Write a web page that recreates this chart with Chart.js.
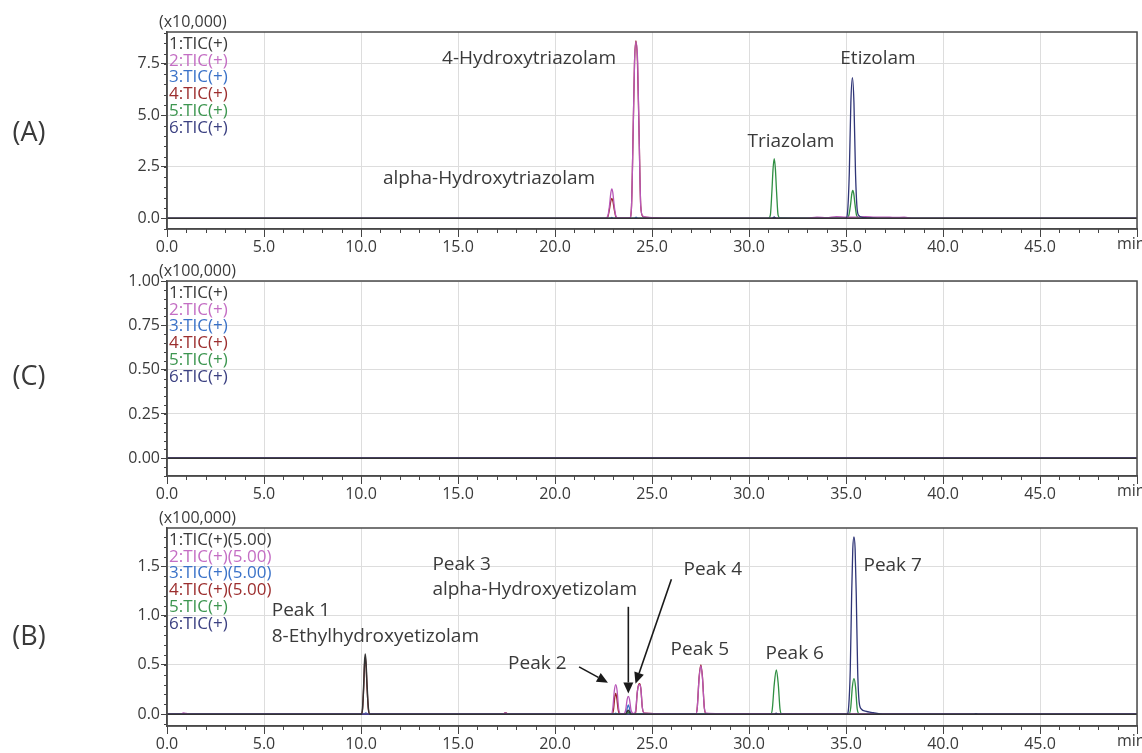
<!DOCTYPE html>
<html lang="en">
<head>
  <meta charset="UTF-8">
  <title>TIC chromatograms (A) (C) (B)</title>
  <style>
    body {
      margin: 0;
      background-color: #ffffff;
    }

    #wrap {
      position: relative;
      width: 1142px;
      height: 753px;
      overflow: hidden;
    }

    #wrap canvas {
      position: absolute;
      left: 0;
    }
  </style>
</head>
<body>
  <div id="wrap">
    <canvas id="chartA" width="1142" height="256" style="top:0px"></canvas>
    <canvas id="chartC" width="1142" height="254" style="top:249px"></canvas>
    <canvas id="chartB" width="1142" height="257" style="top:496px"></canvas>
  </div>

  <script src="https://cdn.jsdelivr.net/npm/chart.js"></script>

  <script>
    // ---- data ----
    const seriesNames = ['1:TIC(+)', '2:TIC(+)', '3:TIC(+)', '4:TIC(+)', '5:TIC(+)', '6:TIC(+)'];
    const seriesNamesB = ['1:TIC(+)(5.00)', '2:TIC(+)(5.00)', '3:TIC(+)(5.00)', '4:TIC(+)(5.00)', '5:TIC(+)', '6:TIC(+)'];
    const seriesColors = ['#333333', '#b857b8', '#3a72c8', '#9c2626', '#2f8f42', '#2f3577'];
    const legendColors = ['#3a3a3a', '#c46ec4', '#3a72c8', '#9c2e2e', '#3d9650', '#3c4182'];

    const xTicks = [0, 5, 10, 15, 20, 25, 30, 35, 40, 45, 50];
    const xTickLabels = ['0.0', '5.0', '10.0', '15.0', '20.0', '25.0', '30.0', '35.0', '40.0', '45.0', ''];
    const xUnit = 'min';

    const yTicksA = [0, 2.5, 5, 7.5];
    const yLabelsA = ['0.0', '2.5', '5.0', '7.5'];
    const yTicksC = [0, 0.25, 0.5, 0.75, 1];
    const yLabelsC = ['0.00', '0.25', '0.50', '0.75', '1.00'];
    const yTicksB = [0, 0.5, 1, 1.5];
    const yLabelsB = ['0.0', '0.5', '1.0', '1.5'];

    // (A) x10,000
    const a1 = [[0, 0], [50, 0]];
    const a2 = [[0, 0], [22.6, 0], [22.72, 0.1], [22.8, 0.55], [22.88, 1.25], [22.93, 1.43], [22.98, 1.25], [23.06, 0.55],
      [23.14, 0.1], [23.25, 0.02], [23.85, 0.02], [23.94, 0.5], [24.03, 4.3], [24.1, 7.6], [24.18, 8.57], [24.26, 7.6],
      [24.33, 4.3], [24.42, 0.6], [24.52, 0.12], [24.7, 0.06], [25, 0.03], [26, 0], [33, 0], [33.5, 0.06], [34, 0.03],
      [34.5, 0.08], [35, 0.05], [35.6, 0.06], [36, 0.08], [36.5, 0.05], [37, 0.06], [37.5, 0.04], [38, 0.05], [38.5, 0], [50, 0]];
    const a3 = [[0, 0], [22.85, 0], [22.93, 0.04], [23.0, 0], [24.1, 0], [24.18, 0.05], [24.26, 0], [31.2, 0], [31.3, 0.06],
      [31.4, 0], [50, 0]];
    const a4 = [[0, 0], [22.6, 0], [22.72, 0.07], [22.8, 0.4], [22.88, 0.85], [22.93, 0.97], [22.98, 0.85], [23.06, 0.4],
      [23.14, 0.07], [23.25, 0], [23.85, 0], [23.94, 0.5], [24.03, 4.3], [24.1, 7.6], [24.17, 8.62], [24.25, 7.6],
      [24.33, 4.3], [24.42, 0.6], [24.52, 0.1], [24.7, 0.04], [25.5, 0], [50, 0]];
    const a5 = [[0, 0], [31.0, 0], [31.1, 0.15], [31.18, 1.3], [31.24, 2.4], [31.3, 2.9], [31.36, 2.4], [31.42, 1.3],
      [31.5, 0.15], [31.6, 0.02], [35.05, 0], [35.15, 0.15], [35.24, 0.7], [35.3, 1.2], [35.35, 1.36], [35.4, 1.2],
      [35.46, 0.7], [35.55, 0.12], [35.7, 0], [50, 0]];
    const a6 = [[0, 0], [31.2, 0], [31.3, 0.06], [31.4, 0], [35.0, 0], [35.08, 0.3], [35.17, 2.2], [35.25, 5.6],
      [35.33, 6.83], [35.41, 5.6], [35.49, 2.2], [35.58, 0.4], [35.68, 0.12], [35.85, 0.05], [36.2, 0.02], [36.6, 0], [50, 0]];

    // (C) x100,000 - flat
    const c1 = [[0, 0], [50, 0]];
    const c2 = [[0, 0], [50, 0]];
    const c3 = [[0, 0], [50, 0]];
    const c4 = [[0, 0], [50, 0]];
    const c5 = [[0, 0], [50, 0]];
    const c6 = [[0, 0], [50, 0]];

    // (B) x100,000
    const b1 = [[0, 0], [10.02, 0], [10.08, 0.06], [10.14, 0.3], [10.18, 0.52], [10.22, 0.61], [10.26, 0.52], [10.31, 0.3],
      [10.38, 0.06], [10.46, 0], [23.65, 0], [23.72, 0.025], [23.78, 0.04], [23.84, 0.025], [23.9, 0], [50, 0]];
    const b2 = [[0, 0], [0.7, 0], [0.85, 0.012], [1.0, 0.008], [1.2, 0], [17.3, 0], [17.45, 0.012], [17.6, 0], [22.9, 0],
      [22.98, 0.06], [23.06, 0.24], [23.13, 0.30], [23.2, 0.24], [23.28, 0.06], [23.38, 0.005], [23.55, 0.005],
      [23.64, 0.04], [23.72, 0.15], [23.78, 0.18], [23.84, 0.15], [23.92, 0.04], [24.05, 0.005], [24.15, 0.03],
      [24.24, 0.22], [24.31, 0.29], [24.37, 0.30], [24.43, 0.25], [24.5, 0.07], [24.6, 0.01], [27.25, 0], [27.33, 0.06],
      [27.43, 0.37], [27.52, 0.49], [27.6, 0.37], [27.7, 0.06], [27.8, 0.01], [28.5, 0.005], [50, 0]];
    const b3 = [[0, 0], [10.15, 0], [10.25, 0.012], [10.35, 0], [17.35, 0], [17.45, 0.01], [17.55, 0], [23.05, 0],
      [23.13, 0.01], [23.2, 0], [23.66, 0], [23.72, 0.06], [23.78, 0.095], [23.84, 0.06], [23.9, 0], [50, 0]];
    const b4 = [[0, 0], [10.02, 0], [10.08, 0.05], [10.14, 0.28], [10.18, 0.5], [10.22, 0.58], [10.26, 0.5], [10.31, 0.28],
      [10.38, 0.05], [10.46, 0], [17.3, 0], [17.45, 0.015], [17.6, 0], [22.95, 0], [23.02, 0.05], [23.08, 0.17],
      [23.13, 0.21], [23.18, 0.17], [23.26, 0.04], [23.35, 0], [24.15, 0], [24.24, 0.22], [24.31, 0.3], [24.37, 0.31],
      [24.43, 0.25], [24.5, 0.07], [24.6, 0.01], [27.25, 0], [27.33, 0.06], [27.43, 0.38], [27.52, 0.50], [27.6, 0.38],
      [27.7, 0.06], [27.8, 0], [50, 0]];
    const b5 = [[0, 0], [23.7, 0], [23.78, 0.02], [23.86, 0], [31.12, 0], [31.2, 0.05], [31.3, 0.3], [31.41, 0.45],
      [31.51, 0.3], [31.6, 0.05], [31.7, 0], [35.15, 0], [35.24, 0.06], [35.33, 0.28], [35.41, 0.36], [35.49, 0.28],
      [35.58, 0.05], [35.7, 0], [50, 0]];
    const b6 = [[0, 0], [31.3, 0], [31.4, 0.01], [31.5, 0], [35.05, 0], [35.14, 0.08], [35.22, 0.45], [35.29, 1.2],
      [35.35, 1.68], [35.41, 1.80], [35.47, 1.68], [35.53, 1.2], [35.6, 0.45], [35.68, 0.12], [35.8, 0.05], [36.0, 0.03],
      [36.4, 0.015], [36.9, 0], [41.6, 0], [41.7, 0.006], [41.8, 0], [50, 0]];

    // labels on the peaks [text, x (min), y (axis units), align]
    const notesA = [
      ['4-Hydroxytriazolam', 18.66, 7.77, 'center'],
      ['alpha-Hydroxytriazolam', 16.6, 1.94, 'center'],
      ['Triazolam', 32.16, 3.74, 'center'],
      ['Etizolam', 36.65, 7.77, 'center']
    ];
    const notesB = [
      ['Peak 1', 5.4, 1.05, 'left'],
      ['8-Ethylhydroxyetizolam', 5.4, 0.79, 'left'],
      ['Peak 3', 13.68, 1.52, 'left'],
      ['alpha-Hydroxyetizolam', 13.68, 1.26, 'left'],
      ['Peak 2', 17.58, 0.51, 'left'],
      ['Peak 4', 26.63, 1.47, 'left'],
      ['Peak 5', 25.96, 0.66, 'left'],
      ['Peak 6', 30.85, 0.62, 'left'],
      ['Peak 7', 35.9, 1.51, 'left']
    ];
    // arrows [x0, y0, x1, y1]
    const arrowsB = [
      [21.24, 0.48, 22.73, 0.32],
      [23.78, 1.09, 23.78, 0.21],
      [26.0, 1.37, 24.15, 0.31]
    ];

    // drawing order: black on top, then navy, magenta, blue, green, red
    const drawOrder = [0, 2, 3, 5, 4, 1];

    const FONT = "'Open Sans', 'Noto Sans', sans-serif";
    const TEXT = '#3a3a3a';

    // frame, minor ticks, legend text, notes and arrows
    const panelDeco = {
      id: 'panelDeco',
      afterDraw(chart, args, o) {
        const ctx = chart.ctx;
        const area = chart.chartArea;
        const xs = chart.scales.x;
        const ys = chart.scales.y;
        ctx.save();

        // minor ticks
        ctx.strokeStyle = '#444';
        ctx.lineWidth = 1;
        ctx.beginPath();
        const nx = Math.round((xs.max - xs.min) / o.xMinor);
        for (let i = 0; i <= nx; i++) {
          const px = Math.round(xs.getPixelForValue(xs.min + i * o.xMinor)) + 0.5;
          ctx.moveTo(px, area.bottom);
          ctx.lineTo(px, area.bottom + 4);
        }
        const y0 = Math.ceil(ys.min / o.yMinor - 1e-6);
        const y1 = Math.floor(ys.max / o.yMinor + 1e-6);
        for (let k = y0; k <= y1; k++) {
          const py = Math.round(ys.getPixelForValue(k * o.yMinor)) + 0.5;
          ctx.moveTo(area.left - 3, py);
          ctx.lineTo(area.left, py);
        }
        ctx.stroke();

        // frame
        ctx.strokeStyle = '#4a4a4a';
        ctx.lineWidth = 1.5;
        ctx.strokeRect(area.left, area.top, area.right - area.left, area.bottom - area.top);

        // panel label, multiplier, unit
        ctx.fillStyle = TEXT;
        ctx.textBaseline = 'middle';
        ctx.textAlign = 'center';
        ctx.font = '27px ' + FONT;
        ctx.fillText(o.panel, 29, o.panelY);
        ctx.textAlign = 'left';
        ctx.font = '16px ' + FONT;
        ctx.fillText(o.multiplier, 159, area.top - 10);
        ctx.fillText(xUnit, xs.getPixelForValue(50) - 20, area.bottom + 15);

        // legend text
        ctx.font = '17px ' + FONT;
        o.legend.forEach((t, i) => {
          ctx.fillStyle = legendColors[i];
          ctx.fillText(t, area.left + 2, area.top + 12 + i * 16.8);
        });

        // notes
        ctx.fillStyle = TEXT;
        ctx.font = '19px ' + FONT;
        o.notes.forEach(n => {
          ctx.textAlign = n[3];
          ctx.fillText(n[0], xs.getPixelForValue(n[1]), ys.getPixelForValue(n[2]));
        });

        // arrows
        ctx.strokeStyle = '#1a1a1a';
        ctx.fillStyle = '#1a1a1a';
        ctx.lineWidth = 1.6;
        o.arrows.forEach(a => {
          const xA = xs.getPixelForValue(a[0]), yA = ys.getPixelForValue(a[1]);
          const xB = xs.getPixelForValue(a[2]), yB = ys.getPixelForValue(a[3]);
          const ang = Math.atan2(yB - yA, xB - xA);
          const hl = 11, hw = 5;
          ctx.beginPath();
          ctx.moveTo(xA, yA);
          ctx.lineTo(xB - Math.cos(ang) * hl, yB - Math.sin(ang) * hl);
          ctx.stroke();
          ctx.beginPath();
          ctx.moveTo(xB, yB);
          ctx.lineTo(xB - Math.cos(ang) * hl - Math.sin(ang) * hw, yB - Math.sin(ang) * hl + Math.cos(ang) * hw);
          ctx.lineTo(xB - Math.cos(ang) * hl + Math.sin(ang) * hw, yB - Math.sin(ang) * hl - Math.cos(ang) * hw);
          ctx.closePath();
          ctx.fill();
        });

        ctx.restore();
      }
    };

    function makeDatasets(series) {
      return series.map((pts, i) => ({
        label: seriesNames[i],
        data: pts,
        borderColor: seriesColors[i],
        borderWidth: i === 0 ? 1.5 : 1.3,
        pointRadius: 0,
        fill: false,
        cubicInterpolationMode: 'monotone',
        order: drawOrder[i]
      }));
    }

    function makeChart(id, series, yMin, yMax, yTicks, yLabels, deco) {
      const ctx = document.getElementById(id).getContext('2d');
      return new Chart(ctx, {
        type: 'line',
        data: { datasets: makeDatasets(series) },
        options: {
          responsive: false,
          animation: false,
          events: [],
          layout: { padding: { top: 32, right: 5, bottom: 0, left: 0 } },
          plugins: {
            legend: { display: false },
            tooltip: { enabled: false },
            panelDeco: deco
          },
          scales: {
            x: {
              type: 'linear',
              min: 0,
              max: 50,
              afterBuildTicks: s => { s.ticks = xTicks.map(v => ({ value: v })); },
              afterFit: s => { s.height = 27; s.paddingLeft = 0; s.paddingRight = 0; },
              ticks: {
                autoSkip: false,
                maxRotation: 0,
                padding: 1,
                color: TEXT,
                font: { family: FONT, size: 16 },
                callback: (v, i) => xTickLabels[i]
              },
              grid: { color: '#dddddd', lineWidth: 1, tickLength: 8, tickColor: '#444444' },
              border: { display: true, color: '#4a4a4a', width: 1.5 }
            },
            y: {
              type: 'linear',
              min: yMin,
              max: yMax,
              afterBuildTicks: s => { s.ticks = yTicks.map(v => ({ value: v })); },
              afterFit: s => { s.width = 167; s.paddingTop = 0; s.paddingBottom = 0; },
              ticks: {
                autoSkip: false,
                padding: 1,
                color: TEXT,
                font: { family: FONT, size: 16 },
                callback: (v, i) => yLabels[i]
              },
              grid: { color: '#dddddd', lineWidth: 1, tickLength: 6, tickColor: '#444444' },
              border: { display: true, color: '#4a4a4a', width: 1.5 }
            }
          }
        },
        plugins: [panelDeco]
      });
    }

    makeChart('chartA', [a1, a2, a3, a4, a5, a6], -0.52, 9.05, yTicksA, yLabelsA, {
      panel: '(A)', panelY: 133, multiplier: '(x10,000)', legend: seriesNames,
      xMinor: 1, yMinor: 0.5, notes: notesA, arrows: []
    });
    makeChart('chartC', [c1, c2, c3, c4, c5, c6], -0.1, 1.0, yTicksC, yLabelsC, {
      panel: '(C)', panelY: 128, multiplier: '(x100,000)', legend: seriesNames,
      xMinor: 1, yMinor: 0.05, notes: [], arrows: []
    });
    makeChart('chartB', [b1, b2, b3, b4, b5, b6], -0.12, 1.89, yTicksB, yLabelsB, {
      panel: '(B)', panelY: 141, multiplier: '(x100,000)', legend: seriesNamesB,
      xMinor: 1, yMinor: 0.1, notes: notesB, arrows: arrowsB
    });
  </script>
</body>
</html>
